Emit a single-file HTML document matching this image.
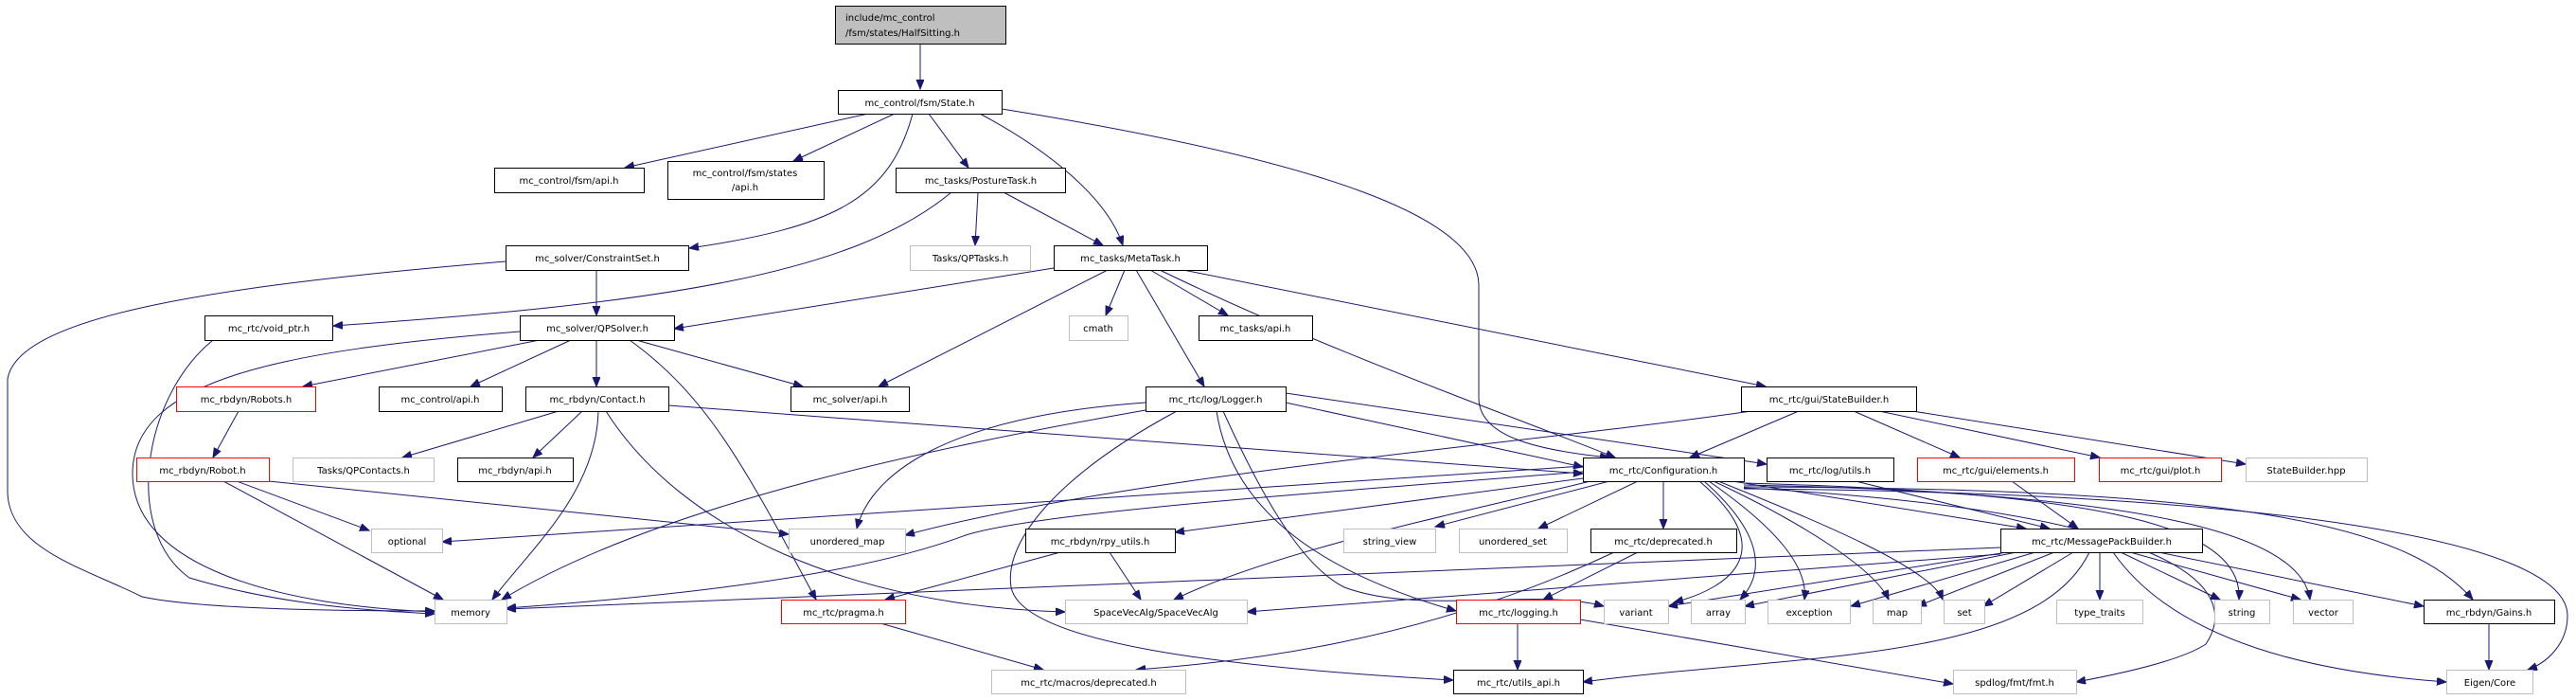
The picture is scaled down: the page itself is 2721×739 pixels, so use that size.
<!DOCTYPE html>
<html><head><meta charset="utf-8"><style>
html,body{margin:0;padding:0;background:#fff;}
svg{display:block;}
text{font-family:"DejaVu Sans","Liberation Sans",sans-serif;font-size:10px;fill:#000;}
.b{fill:#fff;stroke:#000;stroke-width:1}
.g{fill:#fff;stroke:#bfbfbf;stroke-width:1}
.r{fill:#fff;stroke:#ff0000;stroke-width:1}
.e path{fill:none;stroke:#191970;stroke-width:1}
</style></head><body>
<svg width="2721" height="739" viewBox="0 0 2721 739" xmlns="http://www.w3.org/2000/svg">
<defs><marker id="a" markerUnits="userSpaceOnUse" markerWidth="12" markerHeight="10" refX="10" refY="4" orient="auto"><path d="M0,0 L10,4 L0,8 z" fill="#191970" stroke="#191970"/></marker></defs>
<g class="e">
<path d="M972,46 L972,94" marker-end="url(#a)"/>
<path d="M917,120 L660,177" marker-end="url(#a)"/>
<path d="M945,120 L838,170" marker-end="url(#a)"/>
<path d="M964,120 C940,210 880,240 728,262" marker-end="url(#a)"/>
<path d="M981,120 L1023,177" marker-end="url(#a)"/>
<path d="M1035,120 C1110,160 1170,210 1186,259" marker-end="url(#a)"/>
<path d="M1058,115 C1400,170 1560,230 1562,300 L1562,420 C1562,460 1620,475 1700,483" marker-end="url(#a)"/>
<path d="M1033,203 L1030,259" marker-end="url(#a)"/>
<path d="M1060,203 L1165,259" marker-end="url(#a)"/>
<path d="M1005,203 C900,290 700,320 352,344" marker-end="url(#a)"/>
<path d="M630,285 L630,333" marker-end="url(#a)"/>
<path d="M534,276 C250,300 20,330 8,400 L8,520 C10,580 90,600 150,630 C220,645 400,645 459,645" marker-end="url(#a)"/>
<path d="M1113,283 L712,347" marker-end="url(#a)"/>
<path d="M1188,285 L1168,333" marker-end="url(#a)"/>
<path d="M1215,285 L1297,333" marker-end="url(#a)"/>
<path d="M1170,285 L928,408" marker-end="url(#a)"/>
<path d="M1200,285 L1272,408" marker-end="url(#a)"/>
<path d="M1225,285 C1400,370 1600,440 1706,483" marker-end="url(#a)"/>
<path d="M1250,285 L1865,408" marker-end="url(#a)"/>
<path d="M225,359 C150,420 130,560 200,610 C300,640 400,645 459,648" marker-end="url(#a)"/>
<path d="M570,359 L320,408" marker-end="url(#a)"/>
<path d="M603,359 L497,408" marker-end="url(#a)"/>
<path d="M630,359 L630,408" marker-end="url(#a)"/>
<path d="M672,359 L848,408" marker-end="url(#a)"/>
<path d="M549,350 C300,370 140,400 140,500 C140,600 300,640 459,646" marker-end="url(#a)"/>
<path d="M665,359 C750,420 790,500 862,633" marker-end="url(#a)"/>
<path d="M252,434 L225,483" marker-end="url(#a)"/>
<path d="M250,508 L390,560" marker-end="url(#a)"/>
<path d="M236,508 L468,633" marker-end="url(#a)"/>
<path d="M284,508 L833,564" marker-end="url(#a)"/>
<path d="M590,434 L425,483" marker-end="url(#a)"/>
<path d="M615,434 L563,483" marker-end="url(#a)"/>
<path d="M632,434 C630,520 560,580 520,633" marker-end="url(#a)"/>
<path d="M640,434 C720,560 900,640 1125,646" marker-end="url(#a)"/>
<path d="M706,428 L1672,500" marker-end="url(#a)"/>
<path d="M1210,425 C1000,440 920,500 905,558" marker-end="url(#a)"/>
<path d="M1210,433 C1000,470 700,530 530,633" marker-end="url(#a)"/>
<path d="M1358,425 L1672,493" marker-end="url(#a)"/>
<path d="M1358,415 L1866,490" marker-end="url(#a)"/>
<path d="M1285,434 C1300,530 1380,600 1538,645" marker-end="url(#a)"/>
<path d="M1292,434 C1340,540 1380,600 1420,620 C1500,650 1620,620 1694,640" marker-end="url(#a)"/>
<path d="M1243,434 C1120,500 1060,570 1068,620 C1080,680 1300,705 1535,718" marker-end="url(#a)"/>
<path d="M1900,434 L1785,483" marker-end="url(#a)"/>
<path d="M1850,434 C1600,470 1200,500 956,565" marker-end="url(#a)"/>
<path d="M1958,434 L2070,483" marker-end="url(#a)"/>
<path d="M1985,434 L2218,483" marker-end="url(#a)"/>
<path d="M2020,434 L2372,490" marker-end="url(#a)"/>
<path d="M1672,492 L467,572" marker-end="url(#a)"/>
<path d="M1672,498 C1400,520 1100,540 1020,565 C900,610 700,630 535,642" marker-end="url(#a)"/>
<path d="M1672,505 L1241,562" marker-end="url(#a)"/>
<path d="M1700,508 L1516,556" marker-end="url(#a)"/>
<path d="M1730,508 L1625,558" marker-end="url(#a)"/>
<path d="M1757,508 L1757,558" marker-end="url(#a)"/>
<path d="M1830,508 L2140,558" marker-end="url(#a)"/>
<path d="M1795,508 C1880,580 1830,620 1768,636" marker-end="url(#a)"/>
<path d="M1800,508 C1870,570 1860,610 1838,633" marker-end="url(#a)"/>
<path d="M1805,508 C1880,560 1910,600 1906,633" marker-end="url(#a)"/>
<path d="M1810,508 C1900,550 1980,600 1995,633" marker-end="url(#a)"/>
<path d="M1815,508 C1920,550 2040,600 2052,633" marker-end="url(#a)"/>
<path d="M1842,510 C2200,520 2370,550 2365,633" marker-end="url(#a)"/>
<path d="M1842,512 C2250,520 2430,560 2440,633" marker-end="url(#a)"/>
<path d="M1842,514 C2350,515 2540,550 2612,633" marker-end="url(#a)"/>
<path d="M1842,516 C2400,520 2712,570 2712,650 C2712,680 2690,700 2670,707" marker-end="url(#a)"/>
<path d="M1680,508 C1550,540 1350,580 1240,633" marker-end="url(#a)"/>
<path d="M1842,515 C2300,540 2370,620 2330,680 C2300,700 2220,715 2193,720" marker-end="url(#a)"/>
<path d="M1960,508 L2165,558" marker-end="url(#a)"/>
<path d="M2125,508 L2195,558" marker-end="url(#a)"/>
<path d="M1120,583 L935,633" marker-end="url(#a)"/>
<path d="M1172,583 L1205,633" marker-end="url(#a)"/>
<path d="M1730,583 L1630,633" marker-end="url(#a)"/>
<path d="M1705,583 C1500,680 1300,700 1200,707" marker-end="url(#a)"/>
<path d="M2113,578 L535,643" marker-end="url(#a)"/>
<path d="M2113,585 L1317,646" marker-end="url(#a)"/>
<path d="M2120,583 L1762,640" marker-end="url(#a)"/>
<path d="M2130,583 L1843,640" marker-end="url(#a)"/>
<path d="M2150,583 L1955,640" marker-end="url(#a)"/>
<path d="M2170,583 L2025,640" marker-end="url(#a)"/>
<path d="M2190,583 L2095,640" marker-end="url(#a)"/>
<path d="M2218,583 L2218,633" marker-end="url(#a)"/>
<path d="M2240,583 L2345,633" marker-end="url(#a)"/>
<path d="M2250,583 L2430,633" marker-end="url(#a)"/>
<path d="M2280,583 L2560,640" marker-end="url(#a)"/>
<path d="M2232,583 C2300,680 2450,710 2584,720" marker-end="url(#a)"/>
<path d="M2207,583 C2150,700 1900,690 1672,720" marker-end="url(#a)"/>
<path d="M930,658 L1102,707" marker-end="url(#a)"/>
<path d="M1603,658 L1603,707" marker-end="url(#a)"/>
<path d="M1669,654 L2063,722" marker-end="url(#a)"/>
<path d="M2629,658 L2629,707" marker-end="url(#a)"/>
</g>
<g>
<rect x="882.5" y="6.5" width="180" height="40" fill="#bfbfbf" stroke="#000"/>
<text x="893" y="22">include/mc_control</text><text x="893" y="38">/fsm/states/HalfSitting.h</text>
<rect class="b" x="885.5" y="95.5" width="173" height="25"/><text x="971.5" y="112" text-anchor="middle">mc_control/fsm/State.h</text>
<rect class="b" x="522.5" y="177.5" width="158" height="26"/><text x="601" y="194" text-anchor="middle">mc_control/fsm/api.h</text>
<rect class="b" x="705.5" y="170.5" width="165" height="40"/><text x="787" y="186" text-anchor="middle">mc_control/fsm/states</text><text x="787" y="201" text-anchor="middle">/api.h</text>
<rect class="b" x="946.5" y="177.5" width="179" height="26"/><text x="1036" y="194" text-anchor="middle">mc_tasks/PostureTask.h</text>
<rect class="b" x="534.5" y="259.5" width="193" height="26"/><text x="631" y="276" text-anchor="middle">mc_solver/ConstraintSet.h</text>
<rect class="g" x="961.5" y="259.5" width="127" height="26"/><text x="1025" y="276" text-anchor="middle">Tasks/QPTasks.h</text>
<rect class="b" x="1113.5" y="259.5" width="162" height="26"/><text x="1194" y="276" text-anchor="middle">mc_tasks/MetaTask.h</text>
<rect class="b" x="216.5" y="333.5" width="135" height="26"/><text x="284" y="350" text-anchor="middle">mc_rtc/void_ptr.h</text>
<rect class="b" x="549.5" y="333.5" width="163" height="26"/><text x="631" y="350" text-anchor="middle">mc_solver/QPSolver.h</text>
<rect class="g" x="1129.5" y="333.5" width="62" height="26"/><text x="1160" y="350" text-anchor="middle">cmath</text>
<rect class="b" x="1266.5" y="333.5" width="120" height="26"/><text x="1326" y="350" text-anchor="middle">mc_tasks/api.h</text>
<rect class="r" x="186.5" y="408.5" width="147" height="26"/><text x="260" y="425" text-anchor="middle">mc_rbdyn/Robots.h</text>
<rect class="b" x="400.5" y="408.5" width="130" height="26"/><text x="465" y="425" text-anchor="middle">mc_control/api.h</text>
<rect class="b" x="555.5" y="408.5" width="151" height="26"/><text x="631" y="425" text-anchor="middle">mc_rbdyn/Contact.h</text>
<rect class="b" x="835.5" y="408.5" width="125" height="26"/><text x="898" y="425" text-anchor="middle">mc_solver/api.h</text>
<rect class="b" x="1210.5" y="408.5" width="148" height="26"/><text x="1284" y="425" text-anchor="middle">mc_rtc/log/Logger.h</text>
<rect class="b" x="1839.5" y="408.5" width="185" height="26"/><text x="1932" y="425" text-anchor="middle">mc_rtc/gui/StateBuilder.h</text>
<rect class="r" x="144.5" y="483.5" width="140" height="25"/><text x="214" y="500" text-anchor="middle">mc_rbdyn/Robot.h</text>
<rect class="g" x="309.5" y="483.5" width="149" height="25"/><text x="384" y="500" text-anchor="middle">Tasks/QPContacts.h</text>
<rect class="b" x="483.5" y="483.5" width="122" height="25"/><text x="544" y="500" text-anchor="middle">mc_rbdyn/api.h</text>
<rect class="b" x="1672.5" y="483.5" width="170" height="25"/><text x="1757" y="500" text-anchor="middle">mc_rtc/Configuration.h</text>
<rect class="b" x="1866.5" y="483.5" width="134" height="25"/><text x="1933" y="500" text-anchor="middle">mc_rtc/log/utils.h</text>
<rect class="r" x="2025.5" y="483.5" width="166" height="25"/><text x="2108" y="500" text-anchor="middle">mc_rtc/gui/elements.h</text>
<rect class="r" x="2217.5" y="483.5" width="129" height="25"/><text x="2282" y="500" text-anchor="middle">mc_rtc/gui/plot.h</text>
<rect class="g" x="2372.5" y="483.5" width="128" height="25"/><text x="2436" y="500" text-anchor="middle">StateBuilder.hpp</text>
<rect class="g" x="392.5" y="558.5" width="75" height="25"/><text x="430" y="575" text-anchor="middle">optional</text>
<rect class="g" x="833.5" y="558.5" width="123" height="25"/><text x="895" y="575" text-anchor="middle">unordered_map</text>
<rect class="b" x="1083.5" y="558.5" width="158" height="25"/><text x="1162" y="575" text-anchor="middle">mc_rbdyn/rpy_utils.h</text>
<rect class="g" x="1419.5" y="558.5" width="97" height="25"/><text x="1468" y="575" text-anchor="middle">string_view</text>
<rect class="g" x="1541.5" y="558.5" width="114" height="25"/><text x="1598" y="575" text-anchor="middle">unordered_set</text>
<rect class="b" x="1680.5" y="558.5" width="154" height="25"/><text x="1757" y="575" text-anchor="middle">mc_rtc/deprecated.h</text>
<rect class="b" x="2113.5" y="558.5" width="213" height="25"/><text x="2220" y="575" text-anchor="middle">mc_rtc/MessagePackBuilder.h</text>
<rect class="g" x="459.5" y="633.5" width="76" height="25"/><text x="497" y="650" text-anchor="middle">memory</text>
<rect class="r" x="825.5" y="633.5" width="131" height="25"/><text x="891" y="650" text-anchor="middle">mc_rtc/pragma.h</text>
<rect class="g" x="1125.5" y="633.5" width="192" height="25"/><text x="1221" y="650" text-anchor="middle">SpaceVecAlg/SpaceVecAlg</text>
<rect class="r" x="1538.5" y="633.5" width="131" height="25"/><text x="1604" y="650" text-anchor="middle">mc_rtc/logging.h</text>
<rect class="g" x="1694.5" y="633.5" width="68" height="25"/><text x="1728" y="650" text-anchor="middle">variant</text>
<rect class="g" x="1786.5" y="633.5" width="57" height="25"/><text x="1815" y="650" text-anchor="middle">array</text>
<rect class="g" x="1867.5" y="633.5" width="87" height="25"/><text x="1911" y="650" text-anchor="middle">exception</text>
<rect class="g" x="1978.5" y="633.5" width="51" height="25"/><text x="2004" y="650" text-anchor="middle">map</text>
<rect class="g" x="2053.5" y="633.5" width="43" height="25"/><text x="2075" y="650" text-anchor="middle">set</text>
<rect class="g" x="2172.5" y="633.5" width="91" height="25"/><text x="2218" y="650" text-anchor="middle">type_traits</text>
<rect class="g" x="2339.5" y="633.5" width="58" height="25"/><text x="2368" y="650" text-anchor="middle">string</text>
<rect class="g" x="2422.5" y="633.5" width="63" height="25"/><text x="2454" y="650" text-anchor="middle">vector</text>
<rect class="b" x="2560.5" y="633.5" width="138" height="25"/><text x="2629" y="650" text-anchor="middle">mc_rbdyn/Gains.h</text>
<rect class="g" x="1047.5" y="707.5" width="205" height="25"/><text x="1150" y="724" text-anchor="middle">mc_rtc/macros/deprecated.h</text>
<rect class="b" x="1535.5" y="707.5" width="137" height="25"/><text x="1604" y="724" text-anchor="middle">mc_rtc/utils_api.h</text>
<rect class="g" x="2063.5" y="707.5" width="130" height="25"/><text x="2128" y="724" text-anchor="middle">spdlog/fmt/fmt.h</text>
<rect class="g" x="2584.5" y="707.5" width="91" height="25"/><text x="2630" y="724" text-anchor="middle">Eigen/Core</text>
</g>
</svg>
</body></html>
